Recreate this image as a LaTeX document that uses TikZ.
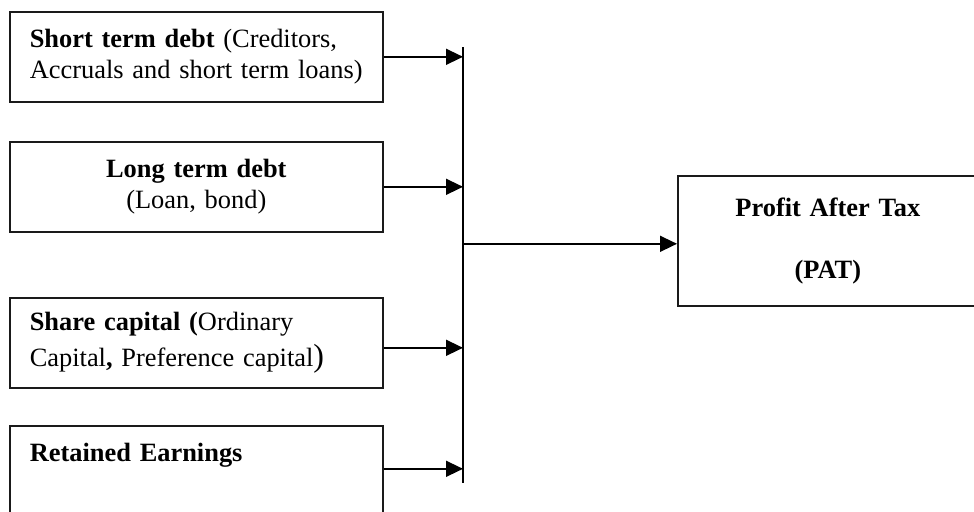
\documentclass[tikz,border=0pt]{standalone}
\usepackage{fontspec}
\setmainfont{Liberation Serif}
\usepackage{tikz}
\usetikzlibrary{arrows.meta,positioning,calc}
\definecolor{capLine}{HTML}{1A1A1A}

\begin{document}
\begin{tikzpicture}[x=.5pt,y=-.5pt,
    srcbox/.style={draw=capLine,line width=.8pt,anchor=north west,
      minimum width=186.5pt,minimum height=45pt,text width=166.5pt,
      inner xsep=10pt,inner ysep=0pt,align=left,
      font=\fontsize{13.2}{15.3}\selectfont},
    flow/.style={-{Triangle[length=8.5pt,width=8pt]},line width=.75pt}]
  \clip (0,0) rectangle (974,511);
  \node[srcbox] (st) at (9,11) {\textbf{Short term debt} (Creditors,\\Accruals and short term loans)};
  \node[srcbox,align=center] (lt) at (9,141) {\textbf{Long term debt}\\(Loan, bond)};
  \node[srcbox,font=\fontsize{13.2}{18}\selectfont] (sc) at (9,297) {\textbf{Share capital (}Ordinary\\Capital\textbf{,} Preference capital{\fontsize{16}{18}\selectfont)}};
  \node[srcbox,minimum height=0pt,text height=18pt,text depth=30pt] (re) at (9,425) {\textbf{Retained Earnings}};
  \node[srcbox,minimum width=150pt,minimum height=65pt,text width=130pt,align=center,
    font=\bfseries\fontsize{13.2}{15.3}\selectfont] (pat) at (677,175) {Profit After Tax\\[15.5pt](PAT)\\[-3pt]};
  \coordinate (bustop) at (463,47);
  \coordinate (busbot) at (463,483);
  \draw[line width=.75pt] (bustop) -- (busbot);
  \foreach \n/\s in {st/0,lt/0,sc/-2.5,re/2.5}
    \draw[flow] ([yshift=\s pt]\n.east) -- ([yshift=\s pt]\n.east -| bustop);
  \draw[flow] ([yshift=-1.5pt]pat.west -| bustop) -- ([yshift=-1.5pt]pat.west);
\end{tikzpicture}
\end{document}
